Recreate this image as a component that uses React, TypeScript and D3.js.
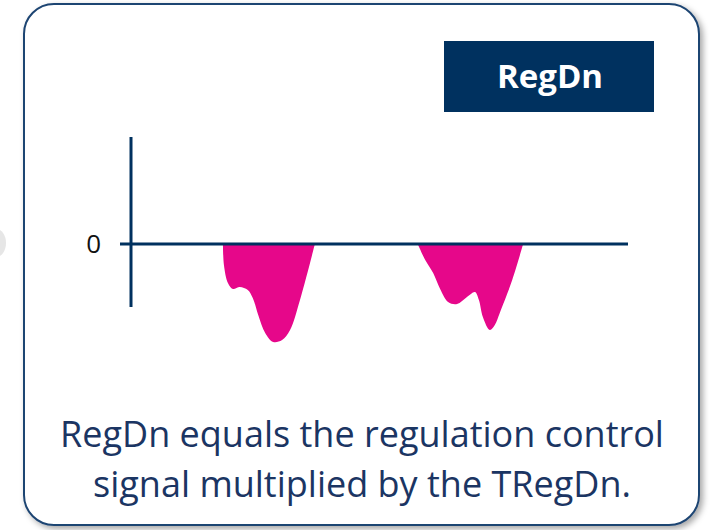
import React from 'react';
import * as d3 from 'd3';

// pulse 1 and pulse 2 of RegDn, [time, value]
const pulseOne: [number, number][] = [
  [18.5, 0], [18.7, -0.21], [19.5, -0.39], [20.5, -0.45], [21.9, -0.43],
  [23.5, -0.46], [24.5, -0.54], [25.6, -0.71], [27.0, -0.89], [28.6, -0.98],
  [30.4, -0.96], [32.0, -0.86], [34.0, -0.56], [37.0, 0],
];
const pulseTwo: [number, number][] = [
  [57.7, 0], [59.2, -0.16], [60.8, -0.29], [62.2, -0.45], [63.8, -0.58],
  [65.6, -0.6], [67.6, -0.53], [69.2, -0.48], [70.0, -0.56], [70.8, -0.73],
  [72.2, -0.86], [73.2, -0.81], [74.2, -0.69], [76.7, -0.36], [78.9, 0],
];
const yTicks = [0];
const captionLines = ['RegDn equals the regulation control', 'signal multiplied by the TRegDn.'];
const badgeLabel = 'RegDn';

const navy = '#00315f';
const pink = '#e6078a';

const App = () => {
  const x = d3.scaleLinear().domain([0, 100]).range([131, 628]);
  const y = d3.scaleLinear().domain([-1, 1]).range([344, 144]);

  const area = d3.area<[number, number]>()
    .x(d => x(d[0]))
    .y0(y(0))
    .y1(d => y(d[1]))
    .curve(d3.curveCatmullRom.alpha(0.5));

  return (
    <svg width={710} height={530} style={{ position: 'absolute', left: 0, top: 0 }}>
      <defs>
        <filter id="shadow" x="-5%" y="-5%" width="112%" height="112%">
          <feDropShadow dx="3" dy="3" stdDeviation="3" floodColor="#000" floodOpacity="0.35" />
        </filter>
      </defs>
      <rect width={710} height={530} fill="#fff" />
      <ellipse cx={-4} cy={243} rx={10} ry={14} fill="#e6e6e6" />
      <rect x={24} y={4} width={675} height={521} rx={30} ry={30}
        fill="#fff" stroke="#1d4472" strokeWidth={2} filter="url(#shadow)" />

      {/* badge */}
      <rect x={444} y={41} width={210} height={71} fill={navy} />
      <text x={550} y={88} textAnchor="middle" fill="#fff"
        fontFamily="'Open Sans', sans-serif" fontWeight={700} fontSize={33}>{badgeLabel}</text>

      {/* pulses */}
      <path d={area(pulseOne) ?? ''} fill={pink} />
      <path d={area(pulseTwo) ?? ''} fill={pink} />

      {/* axes */}
      <line x1={x(0)} x2={x(0)} y1={y(1.07)} y2={y(-0.63)} stroke={navy} strokeWidth={3} />
      <line x1={x(0) - 11} x2={x(100)} y1={y(0)} y2={y(0)} stroke={navy} strokeWidth={3} />
      {yTicks.map(t => (
        <text key={t} x={101} y={y(t) + 9} textAnchor="end" fontFamily="'Open Sans', sans-serif"
          fontSize={26} fill="#111">{t}</text>
      ))}

      {/* caption */}
      {captionLines.map((line, i) => (
        <text key={i} x={362} y={447 + i * 50} textAnchor="middle" fill="#1b3563"
          fontFamily="'Open Sans', sans-serif" fontSize={36}>{line}</text>
      ))}
    </svg>
  );
};

export default App;
